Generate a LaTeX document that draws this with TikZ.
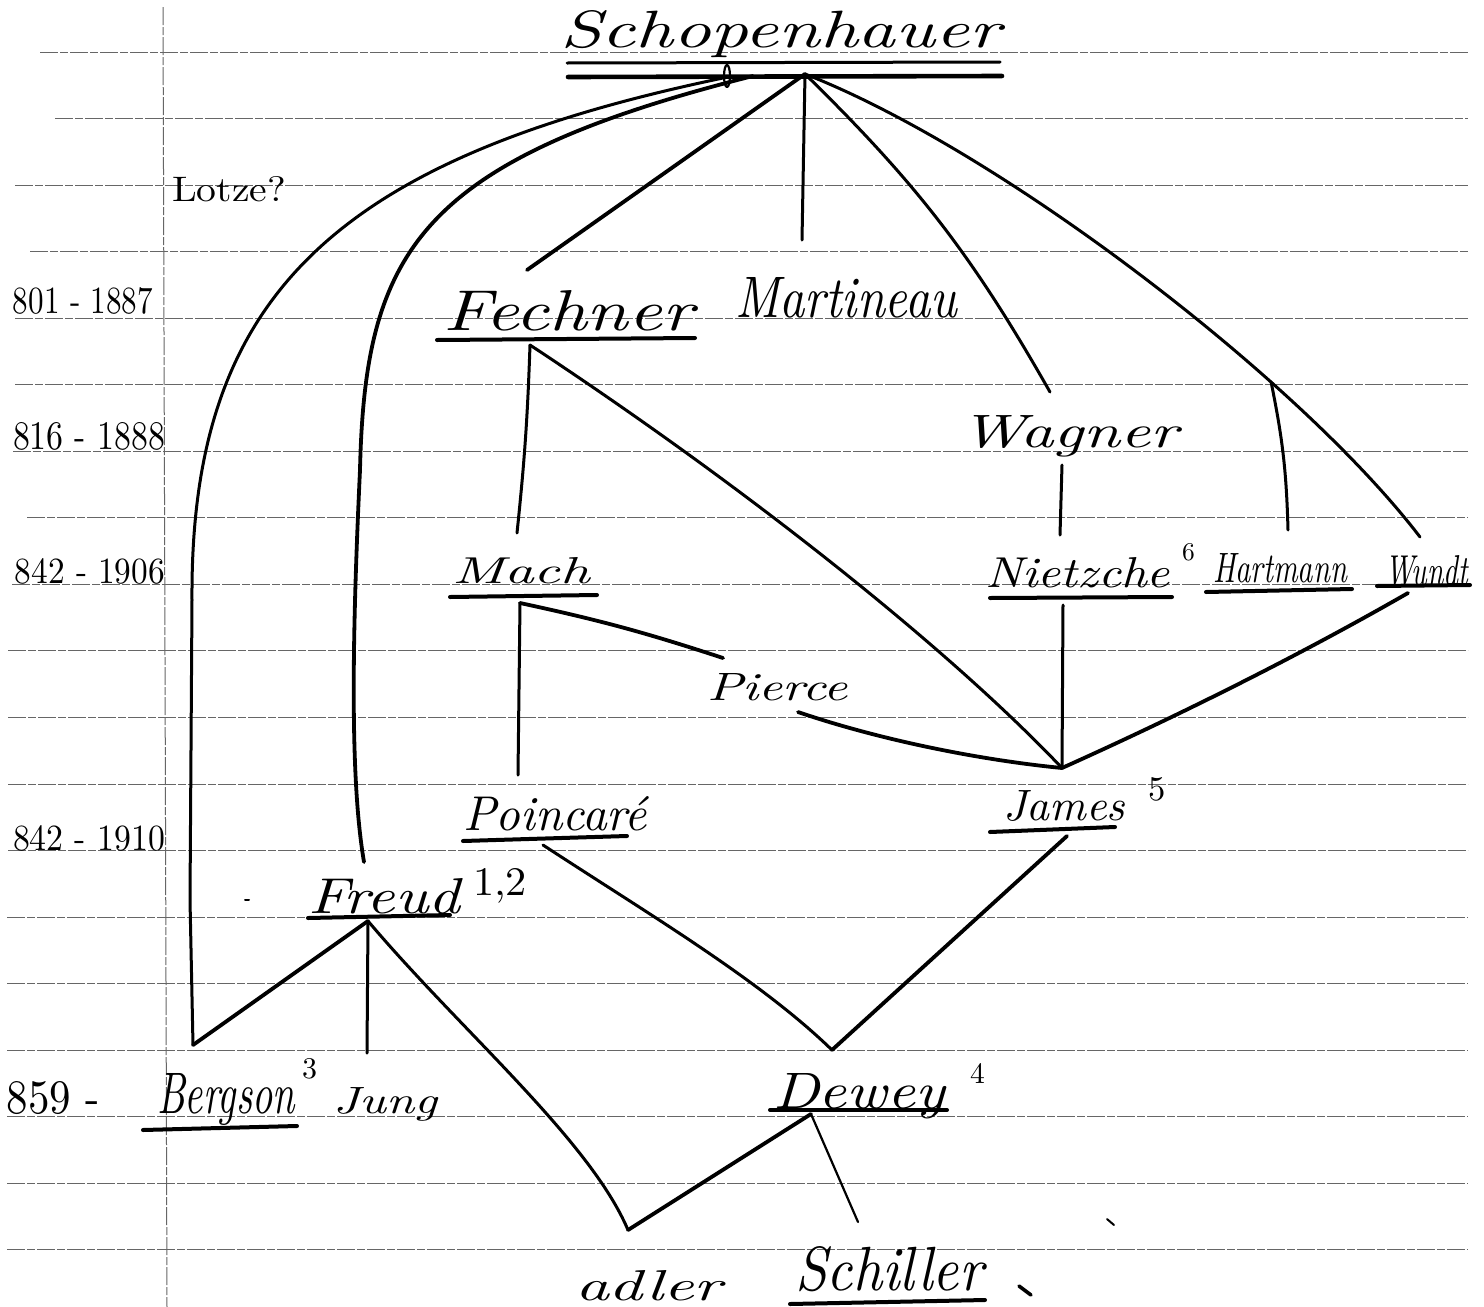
\documentclass[tikz,border=0pt]{standalone}
\usepackage{graphicx}
\newcommand\hw[3]{\resizebox{#1}{#2}{#3}}
\tikzset{
  ink/.style={line width=1.5pt, line cap=round, line join=round},
  heavyink/.style={line width=1.9pt, line cap=round, line join=round},
  thinink/.style={line width=1.1pt, line cap=round, line join=round},
  uline/.style={line width=2pt, line cap=round},
  ruleline/.style={line width=0.5pt, black!60, dash pattern=on 9pt off 1pt on 4pt off 1pt},
  word/.style={inner sep=0pt, outer sep=0pt, anchor=base west, font=\itshape},
  year/.style={inner sep=0pt, outer sep=0pt, anchor=base west},
}
\begin{document}
\begin{tikzpicture}[x=0.5pt, y=-0.5pt]
\useasboundingbox[fill=white] (0,0) rectangle (1484,1307);

% ruled notebook paper
\foreach \k/\xs in {0/40,1/55,2/15,3/30,4/15,5/15,6/13,7/27,8/12,9/8,10/8,11/8,12/8,13/7,14/7,15/7,16/7,17/7,18/7}
  \draw[ruleline] (\xs,{52+66.55*\k}) -- (1468,{52+66.55*\k});
\draw[ruleline] (163,7) -- (167,1307);

% names
\node[word] (scho) at (560,47) {\hw{220pt}{18.5pt}{Schopenhauer}};
\node[year] (lotze) at (172,201) {\hw{57pt}{12.5pt}{Lotze?}};
\node[word] (fechner) at (443,330) {\hw{125pt}{20pt}{Fechner}};
\node[word] (martineau) at (735,317) {\hw{111pt}{20pt}{Martineau}};
\node[word] (wagner) at (960,447) {\hw{109pt}{16pt}{Wagner}};
\node[word] (mach) at (452,583) {\hw{69pt}{13pt}{Mach}};
\node[word] (nietz) at (985,587) {\hw{92.5pt}{15pt}{Nietzche}};
\node[word] (hartmann) at (1213,582) {\hw{67pt}{14.5pt}{Hartmann}};
\node[word] (wundt) at (1385,585) {\hw{41.5pt}{15pt}{Wundt}};
\node[word] (pierce) at (707,700) {\hw{70.5pt}{13.5pt}{Pierce}};
\node[word] (poincare) at (463,830) {\hw{92pt}{17pt}{Poincaré}};
\node[word] (james) at (1003,820) {\hw{61pt}{15pt}{James}};
\node[word] (freud) at (308,913) {\hw{76pt}{17.5pt}{Freud}};
\node[word] (bergson) at (157,1113) {\hw{69pt}{20pt}{Bergson}};
\node[word] (jung) at (333,1113) {\hw{52pt}{13pt}{Jung}};
\node[word] (dewey) at (773,1108) {\hw{86pt}{17.5pt}{Dewey}};
\node[word] (adler) at (575,1300) {\hw{73.5pt}{15pt}{adler}};
\node[word] (schiller) at (795,1290) {\hw{94pt}{22pt}{Schiller}};

% footnote marks
\node[year] (fn6) at (1182,560) {\hw{!}{8.5pt}{6}};
\node[year] (fn5) at (1148,800) {\hw{!}{11.5pt}{5}};
\node[year] (fn12) at (473,895) {\hw{27pt}{13.5pt}{1,2}};
\node[year] (fn3) at (302,1078) {\hw{!}{10pt}{3}};
\node[year] (fn4) at (970,1083) {\hw{!}{10pt}{4}};

% dates in the margin
\node[year] (d1) at (13,313) {\hw{70pt}{13pt}{801 - 1887}};
\node[year] (d2) at (13,449) {\hw{76pt}{13.5pt}{816 - 1888}};
\node[year] (d3) at (15,583) {\hw{75pt}{12.5pt}{842 - 1906}};
\node[year] (d4) at (13,850) {\hw{76pt}{12.5pt}{842 - 1910}};
\node[year] (d5) at (7,1113) {\hw{46.5pt}{16pt}{859 -}};

% underlines
\draw[line width=1.5pt, line cap=round] (567,63) -- (1000,62);
\draw[line width=2.3pt, line cap=round] (568,77) -- (1002,76);
\draw[uline] (437,340) -- (695,338);
\draw[uline] (450,597) -- (597,595);
\draw[uline] (990,598) -- (1172,597);
\draw[uline] (1206,592) -- (1352,589);
\draw[uline] (1377,586) -- (1470,585);
\draw[uline] (463,841) -- (627,836);
\draw[uline] (990,832) -- (1115,827);
\draw[uline] (308,918) -- (450,915);
\draw[uline] (143,1130) -- (297,1126);
\draw[uline] (770,1110) -- (947,1110);
\draw[uline] (790,1304) -- (985,1300);

% attachment points
\coordinate (hub) at (805,74);
\coordinate (outerStart) at (723,78);
\coordinate (innerStart) at (753,76);
\coordinate (fechnerTop) at (527,270);
\coordinate (martineauTop) at (802,240);
\coordinate (wagnerTop) at (1050,392);
\coordinate (hartmannTop) at (1288,530);
\coordinate (wundtTop) at (1420,537);
\coordinate (freudTop) at (364,862);
\coordinate (bergsonV) at (193,1045);
\coordinate (fechnerBot) at (530,345);
\coordinate (machTop) at (517,533);
\coordinate (machBot) at (520,603);
\coordinate (pierceTop) at (723,658);
\coordinate (pierceBot) at (798,712);
\coordinate (poincareTop) at (518,775);
\coordinate (poincareBot) at (543,845);
\coordinate (wagnerBot) at (1062,465);
\coordinate (nietzTop) at (1060,535);
\coordinate (nietzBot) at (1063,605);
\coordinate (wundtBot) at (1408,593);
\coordinate (jamesV) at (1062,768);
\coordinate (jamesBot) at (1067,836);
\coordinate (deweyV) at (832,1050);
\coordinate (deweyBot) at (811,1114);
\coordinate (freudBot) at (368,921);
\coordinate (jungTop) at (367,1053);
\coordinate (adlerV) at (628,1230);
\coordinate (schillerTop) at (858,1222);

% lines of influence
\draw[heavyink] (hub) -- (fechnerTop);
\draw[ink] (hub) -- (martineauTop);
\draw[ink] (hub) to[bend left=8] (wagnerTop);
\draw[ink] (hub) .. controls (1000,150) and (1300,380) .. coordinate[pos=0.7] (fork) (wundtTop);
\draw[ink] (fork) to[bend left=5] (hartmannTop);
\draw[ink] (outerStart) .. controls (330,160) and (190,300) .. (192,600) -- (190,900) -- (bergsonV);
\draw[heavyink] (innerStart) .. controls (420,160) and (365,250) .. (360,470)
  .. controls (352,640) and (350,780) .. (freudTop);
\draw[ink] (fechnerBot) to[bend left=2] (machTop);
\draw[ink] (fechnerBot) .. controls (750,490) and (950,650) .. (jamesV);
\draw[heavyink] (machBot) to[bend left=3] (pierceTop);
\draw[ink] (machBot) -- (poincareTop);
\draw[heavyink] (pierceBot) .. controls (880,740) and (980,760) .. (jamesV);
\draw[ink] (wagnerBot) -- (nietzTop);
\draw[ink] (nietzBot) -- (jamesV);
\draw[heavyink] (wundtBot) .. controls (1300,655) and (1180,715) .. (jamesV);
\draw[heavyink] (jamesBot) -- (deweyV);
\draw[ink] (poincareBot) .. controls (650,915) and (760,980) .. (deweyV);
\draw[heavyink] (freudBot) -- (bergsonV);
\draw[ink] (freudBot) -- (jungTop);
\draw[ink] (freudBot) .. controls (460,1030) and (590,1140) .. (adlerV);
\draw[heavyink] (deweyBot) -- (adlerV);
\draw[thinink] (deweyBot) -- (schillerTop);

% small pen marks
\draw[thinink] (727,76) ellipse [x radius=3, y radius=11];
\draw[line width=1.8pt, line cap=round] (1019,1286) -- (1031,1295);
\draw[line width=1pt, line cap=round] (1107,1219) -- (1114,1225);
\draw[line width=1pt, line cap=round] (245,900) -- (249,900);
\end{tikzpicture}
\end{document}
